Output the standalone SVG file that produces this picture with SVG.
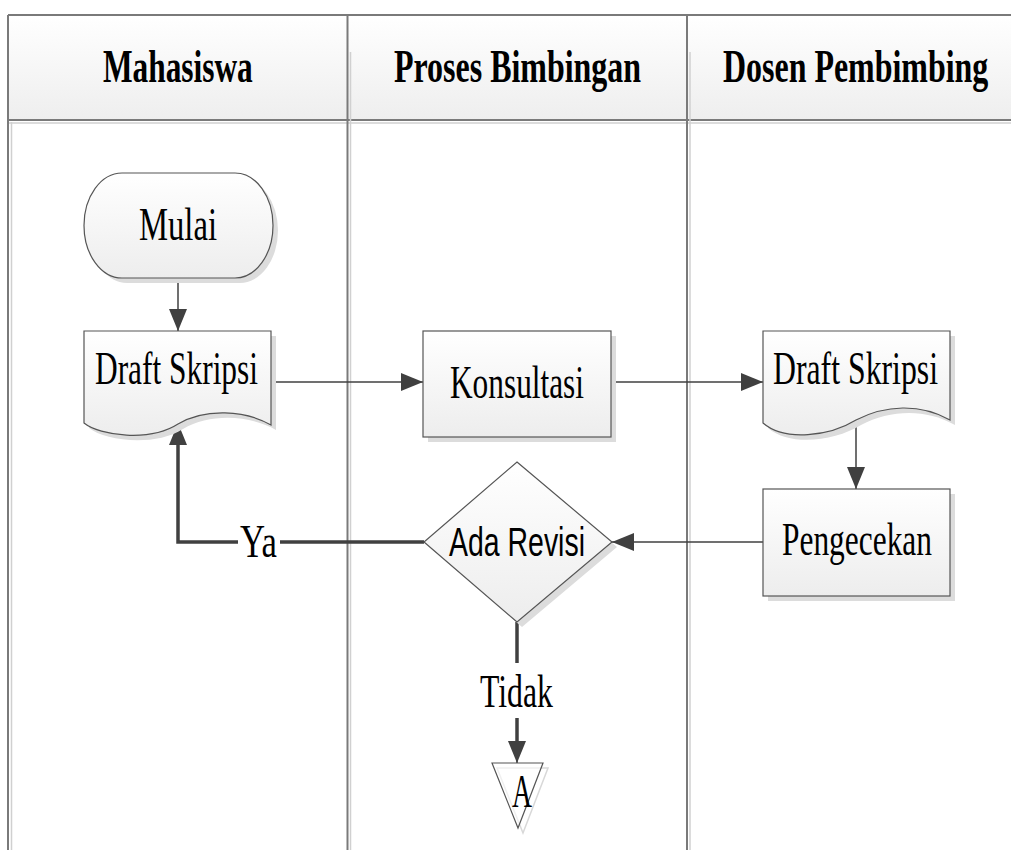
<svg xmlns="http://www.w3.org/2000/svg" width="1011" height="850" viewBox="0 0 1011 850">
<defs>
<linearGradient id="hdr" x1="0" y1="0" x2="0" y2="1"><stop offset="0" stop-color="#ffffff"/><stop offset="1" stop-color="#eeeeee"/></linearGradient>
<linearGradient id="shp" x1="0" y1="0" x2="0" y2="1"><stop offset="0" stop-color="#ffffff"/><stop offset="1" stop-color="#ededed"/></linearGradient>
<marker id="ah" viewBox="0 0 22 18" refX="22" refY="9" markerWidth="22" markerHeight="18" markerUnits="userSpaceOnUse" orient="auto"><path d="M0,0 L22,9 L0,18 Z" fill="#404040"/></marker>
<style>
.lane{fill:none;stroke:#7a7a7a;stroke-width:2}
.lanel{fill:none;stroke:#d0d0d0;stroke-width:1.5}
.hdrt{font-family:"Liberation Serif","Times New Roman",serif;font-weight:bold;font-size:47px;fill:#000}
.t{font-family:"Liberation Serif","Times New Roman",serif;font-size:46px;fill:#000}
.s{font-family:"Liberation Sans","Open Sans",Arial,sans-serif;font-size:40px;fill:#000}
.shape{fill:url(#shp);stroke:#555;stroke-width:1.2}
.shadow{fill:#dcdcdc;stroke:none}
.conn{fill:none;stroke:#404040;stroke-width:1.5}
.thick{fill:none;stroke:#404040;stroke-width:3.5}
</style>
</defs>
<rect x="0" y="0" width="1011" height="850" fill="#ffffff"/>
<g id="swimlanes">
<rect x="8" y="15" width="1010" height="105" fill="url(#hdr)"/>
<line class="lane" x1="8" y1="15" x2="1011" y2="15"/>
<line class="lane" x1="8" y1="120" x2="1011" y2="120"/>
<line class="lanel" x1="8" y1="123" x2="1011" y2="123"/>
<line class="lane" x1="8" y1="15" x2="8" y2="850"/>
<line class="lanel" x1="11.5" y1="122" x2="11.5" y2="850"/>
<line class="lane" x1="347.5" y1="15" x2="347.5" y2="850"/>
<line class="lanel" x1="350.5" y1="52" x2="350.5" y2="850"/>
<line class="lane" x1="687" y1="15" x2="687" y2="850" stroke-width="1.5"/>
<line class="lanel" x1="690" y1="52" x2="690" y2="850"/>
<text class="hdrt" transform="translate(103,82) scale(0.7,1)" x="0" y="0" textLength="214" lengthAdjust="spacingAndGlyphs">Mahasiswa</text>
<text class="hdrt" transform="translate(394,82) scale(0.7,1)" x="0" y="0" textLength="353" lengthAdjust="spacingAndGlyphs">Proses Bimbingan</text>
<text class="hdrt" transform="translate(723,82) scale(0.7,1)" x="0" y="0" textLength="379" lengthAdjust="spacingAndGlyphs">Dosen Pembimbing</text>
</g>
<g id="connectors">
<line class="conn" x1="178" y1="278" x2="178" y2="331" marker-end="url(#ah)"/>
<line class="conn" x1="271" y1="382" x2="423" y2="382" marker-end="url(#ah)"/>
<line class="conn" x1="611" y1="382" x2="763" y2="382" marker-end="url(#ah)"/>
<line class="conn" x1="856" y1="418" x2="856" y2="489" marker-end="url(#ah)"/>
<line class="conn" x1="763" y1="542" x2="612" y2="542" marker-end="url(#ah)"/>
<polyline class="thick" points="424,542 178,542 178,440"/>
<line class="conn" x1="178" y1="445" x2="178" y2="423" marker-end="url(#ah)"/>
<rect x="238" y="526" width="42" height="32" fill="#ffffff"/>
<text class="t" x="240" y="557" textLength="37" lengthAdjust="spacingAndGlyphs">Ya</text>
<line class="thick" x1="517" y1="622" x2="517" y2="663" stroke-width="2.5"/>
<text class="t" x="480" y="707" textLength="73" lengthAdjust="spacingAndGlyphs">Tidak</text>
<line class="thick" x1="517" y1="718" x2="517" y2="745" stroke-width="2.5"/>
<line class="conn" x1="517" y1="740" x2="517" y2="763" marker-end="url(#ah)"/>
</g>
<g id="mulai">
<path class="shadow" d="M127,178 H240 A38,52.5 0 0 1 240,283 H127 A38,52.5 0 0 1 127,178 Z"/>
<path class="shape" d="M122,173 H235 A38,52.5 0 0 1 235,278 H122 A38,52.5 0 0 1 122,173 Z"/>
<text class="t" x="139" y="240" textLength="78" lengthAdjust="spacingAndGlyphs">Mulai</text>
</g>
<g id="draft1">
<path class="shadow" d="M89,336 H276 V430 C250,415 210,413 183,429 C155,447 105,441 89,428 Z"/>
<path class="shape" d="M84,331 H271 V425 C245,410 205,408 178,424 C150,442 100,436 84,423 Z"/>
<text class="t" x="95" y="384" textLength="163" lengthAdjust="spacingAndGlyphs">Draft Skripsi</text>
</g>
<g id="konsultasi">
<rect class="shadow" x="428" y="336" width="188" height="106"/>
<rect class="shape" x="423" y="331" width="188" height="106"/>
<text class="t" x="450" y="398" textLength="134" lengthAdjust="spacingAndGlyphs">Konsultasi</text>
</g>
<g id="draft2">
<path class="shadow" d="M768,336 H955 V425 C925,408 890,410 861,425 C835,441 790,447 768,428 Z"/>
<path class="shape" d="M763,331 H950 V420 C920,403 885,405 856,420 C830,436 785,442 763,423 Z"/>
<text class="t" x="773" y="384" textLength="165" lengthAdjust="spacingAndGlyphs">Draft Skripsi</text>
</g>
<g id="pengecekan">
<rect class="shadow" x="768" y="494" width="187" height="107"/>
<rect class="shape" x="763" y="489" width="187" height="107"/>
<text class="t" x="782" y="555" textLength="150" lengthAdjust="spacingAndGlyphs">Pengecekan</text>
</g>
<g id="ada-revisi">
<path class="shadow" d="M522,467 L617,547 L522,627 L429,547 Z"/>
<path class="shape" d="M517,462 L612,542 L517,622 L424,542 Z"/>
<text class="s" x="449" y="556" textLength="136" lengthAdjust="spacingAndGlyphs">Ada Revisi</text>
</g>
<g id="connector-a">
<path d="M497,768 L548,768 L523,833 Z" fill="none" stroke="#d8d8d8" stroke-width="1.5"/>
<path d="M492,763 L543,763 L518,828 Z" fill="#ffffff" fill-opacity="0.6" stroke="#555" stroke-width="1.2"/>
<text class="t" x="512" y="807" textLength="20" lengthAdjust="spacingAndGlyphs">A</text>
</g>
</svg>
